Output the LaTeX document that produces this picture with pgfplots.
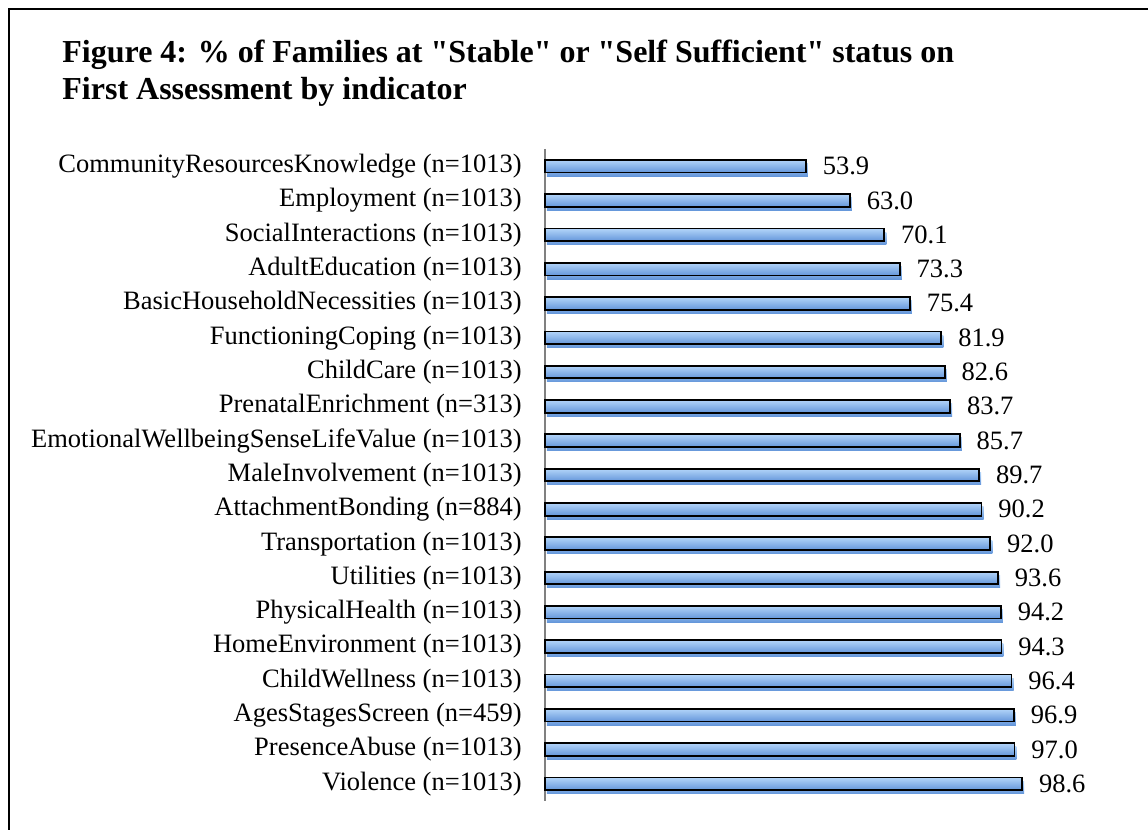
\documentclass[border=0pt]{standalone}
\usepackage{fontspec}
\setmainfont{Liberation Serif}
\usepackage{pgfplots}
\usepackage{pgfplotstable}
\pgfplotsset{compat=1.18}
\pgfplotstableread{
y val
0 53.9
1 63.0
2 70.1
3 73.3
4 75.4
5 81.9
6 82.6
7 83.7
8 85.7
9 89.7
10 90.2
11 92.0
12 93.6
13 94.2
14 94.3
15 96.4
16 96.9
17 97.0
18 98.6
}\datatable
\definecolor{bartop}{RGB}{178,212,249}
\definecolor{barbot}{RGB}{100,150,218}
\begin{document}
\begin{tikzpicture}
\useasboundingbox (0,0) rectangle (574pt,415pt);
\draw[line width=0.85pt] (4.5pt,-2pt) -- (4.5pt,410.5pt) -- (580pt,410.5pt);
\node[anchor=base west, font=\fontsize{16pt}{19pt}\selectfont\bfseries, inner sep=0pt] at (31pt,383.5pt) {Figure 4: \% of Families at \textquotedbl Stable\textquotedbl{} or \textquotedbl Self Sufficient\textquotedbl{} status on};
\node[anchor=base west, font=\fontsize{16pt}{19pt}\selectfont\bfseries, inner sep=0pt] at (31pt,365pt) {First Assessment by indicator};
\begin{axis}[
  at={(272.5pt,14.5pt)}, anchor=south west,
  scale only axis, width=290.4pt, height=326pt,
  xbar, bar width=6.3pt,
  xmin=0, xmax=120, ymin=-0.5, ymax=18.5,
  y dir=reverse,
  hide x axis,
  axis y line*=left,
  y axis line style={draw=gray, line width=1pt, -},
  ytick={0,...,18},
  major tick length=0pt,
  yticklabels={{CommunityResourcesKnowledge (n=1013)},{Employment (n=1013)},{SocialInteractions (n=1013)},{AdultEducation (n=1013)},{BasicHouseholdNecessities (n=1013)},{FunctioningCoping (n=1013)},{ChildCare (n=1013)},{PrenatalEnrichment (n=313)},{EmotionalWellbeingSenseLifeValue (n=1013)},{MaleInvolvement (n=1013)},{AttachmentBonding (n=884)},{Transportation (n=1013)},{Utilities (n=1013)},{PhysicalHealth (n=1013)},{HomeEnvironment (n=1013)},{ChildWellness (n=1013)},{AgesStagesScreen (n=459)},{PresenceAbuse (n=1013)},{Violence (n=1013)}},
  yticklabel style={font=\fontsize{13.25pt}{16pt}\selectfont, anchor=east, inner sep=0pt, xshift=-11.5pt},
  point meta=x,
  nodes near coords={\pgfmathprintnumber[fixed,fixed zerofill,precision=1,assume math mode=true]{\pgfplotspointmeta}},
  every node near coord/.append style={font=\fontsize{13.25pt}{16pt}\selectfont, anchor=west, inner sep=0pt, xshift=8pt, black},
  clip=false,
]
\pgfplotsinvokeforeach{0,...,18}{
\addplot[bar shift=0pt, draw=black, line width=0.9pt, top color=bartop, bottom color=barbot,
  restrict expr to domain={\coordindex}{#1:#1},
  preaction={fill=black!13, draw=none, transform canvas={xshift=1pt, yshift=-1.8pt}}]
  table[x=val, y=y] {\datatable};
}
\end{axis}
\end{tikzpicture}
\end{document}
